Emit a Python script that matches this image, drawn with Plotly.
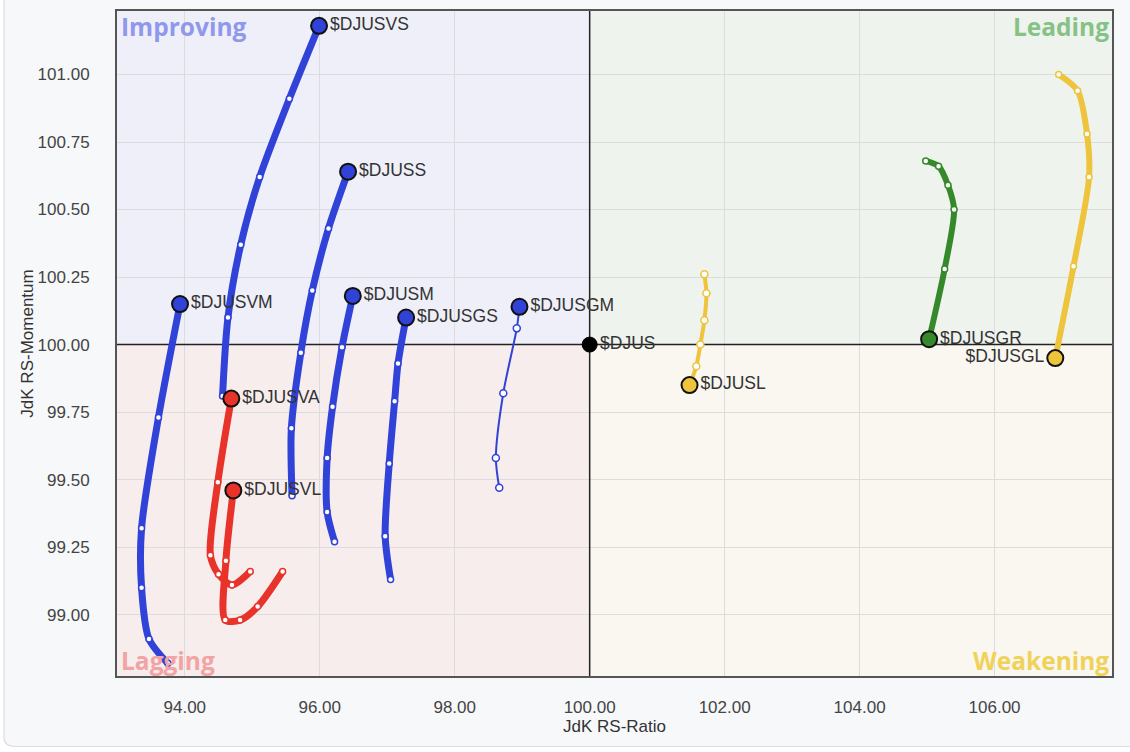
import plotly.graph_objects as go

# ---------------- data (JdK RS-Ratio, JdK RS-Momentum), oldest -> latest ----------------
names = ["$DJUSVS", "$DJUSS", "$DJUSVM", "$DJUSM", "$DJUSGS", "$DJUSGM",
         "$DJUSVA", "$DJUSVL", "$DJUSL", "$DJUSGR", "$DJUSGL"]

djusvs_x = [94.56, 94.64, 94.83, 95.11, 95.55, 95.99]
djusvs_y = [99.81, 100.10, 100.37, 100.62, 100.91, 101.18]

djuss_x = [95.59, 95.58, 95.72, 95.89, 96.13, 96.42]
djuss_y = [99.44, 99.69, 99.97, 100.20, 100.43, 100.64]

djusvm_x = [93.75, 93.47, 93.36, 93.36, 93.61, 93.93]
djusvm_y = [98.82, 98.91, 99.10, 99.32, 99.73, 100.15]

djusm_x = [96.22, 96.11, 96.11, 96.19, 96.33, 96.49]
djusm_y = [99.27, 99.38, 99.58, 99.77, 99.99, 100.18]

djusgs_x = [97.05, 96.97, 97.03, 97.11, 97.16, 97.28]
djusgs_y = [99.13, 99.29, 99.56, 99.79, 99.93, 100.10]

djusgm_x = [98.66, 98.61, 98.72, 98.92, 98.96]
djusgm_y = [99.47, 99.58, 99.82, 100.06, 100.14]

djusva_x = [94.97, 94.70, 94.50, 94.38, 94.49, 94.69]
djusva_y = [99.16, 99.11, 99.15, 99.22, 99.49, 99.80]

djusvl_x = [95.45, 95.08, 94.82, 94.60, 94.61, 94.72]
djusvl_y = [99.16, 99.03, 98.98, 98.98, 99.20, 99.46]

djusl_x = [101.70, 101.73, 101.70, 101.64, 101.58, 101.48]
djusl_y = [100.26, 100.19, 100.09, 100.00, 99.92, 99.85]

djusgr_x = [104.98, 105.17, 105.31, 105.40, 105.26, 105.03]
djusgr_y = [100.68, 100.66, 100.59, 100.50, 100.28, 100.02]

djusgl_x = [106.95, 107.23, 107.37, 107.40, 107.17, 106.90]
djusgl_y = [101.00, 100.94, 100.78, 100.62, 100.29, 99.95]

benchmark_name = "$DJUS"
benchmark_x = [100.00]
benchmark_y = [100.00]

x_ticks = [94, 96, 98, 100, 102, 104, 106]
y_ticks = [99.00, 99.25, 99.50, 99.75, 100.00, 100.25, 100.50, 100.75, 101.00]

quadrants = ["Improving", "Leading", "Lagging", "Weakening"]

# ---------------- styles ----------------
BLUE = "#3042d8"
RED = "#e8332b"
GREEN = "#35892a"
YELLOW = "#edc43c"

series = [
    (djusvs_x, djusvs_y, names[0], BLUE, 7, "right"),
    (djuss_x, djuss_y, names[1], BLUE, 7, "right"),
    (djusvm_x, djusvm_y, names[2], BLUE, 7, "right"),
    (djusm_x, djusm_y, names[3], BLUE, 7, "right"),
    (djusgs_x, djusgs_y, names[4], BLUE, 7, "right"),
    (djusgm_x, djusgm_y, names[5], BLUE, 2, "right"),
    (djusva_x, djusva_y, names[6], RED, 7, "right"),
    (djusvl_x, djusvl_y, names[7], RED, 7, "right"),
    (djusl_x, djusl_y, names[8], YELLOW, 4, "right"),
    (djusgr_x, djusgr_y, names[9], GREEN, 6, "right"),
    (djusgl_x, djusgl_y, names[10], YELLOW, 6, "left"),
]

X_MIN, X_MAX = 92.996, 107.74
Y_MIN, Y_MAX = 98.773, 101.235

fig = go.Figure()

FONT = "Liberation Sans, Arial, sans-serif"
LABEL_SIZE = 17.5

for xs, ys, name, color, lw, side in series:
    n = len(xs)
    thin = lw <= 4
    tail_size = 7 if thin else 6
    sizes = [tail_size] * (n - 1) + [16]
    fills = ["white"] * (n - 1) + [color]
    lcols = [color] * (n - 1) + ["#111111"]
    lwid = [1.5] * (n - 1) + [2]
    texts = [""] * (n - 1) + [name]
    fig.add_trace(go.Scatter(
        x=xs, y=ys, mode="lines+markers+text",
        line=dict(color=color, width=lw, shape="spline", smoothing=0.8),
        marker=dict(size=sizes, color=fills, opacity=1, line=dict(color=lcols, width=lwid)),
        text=texts,
        textposition="middle right" if side == "right" else "middle left",
        textfont=dict(family=FONT, size=LABEL_SIZE, color="#333333"),
        hoverinfo="x+y+name", name=name, showlegend=False,
        cliponaxis=False,
    ))

fig.add_trace(go.Scatter(
    x=benchmark_x, y=benchmark_y, mode="markers+text",
    marker=dict(size=15, color="#000000", line=dict(color="#000000", width=1)),
    text=[benchmark_name], textposition="middle right",
    textfont=dict(family=FONT, size=LABEL_SIZE, color="#333333"),
    showlegend=False, name=benchmark_name, cliponaxis=False,
))

shapes = [
    # card background
    dict(type="path", xref="paper", yref="paper", layer="below",
         path="M -0.1136,1.05 L -0.1136,-0.093 Q -0.1136,-0.106 -0.1016,-0.106 L 1.05,-0.106 L 1.05,1.05 Z",
         fillcolor="#f7f8fa", line=dict(color="#dcdde0", width=1.2)),
    # quadrants
    dict(type="rect", xref="x", yref="y", layer="below", x0=X_MIN, x1=100, y0=100, y1=Y_MAX,
         fillcolor="#eeeff8", line=dict(width=0)),
    dict(type="rect", xref="x", yref="y", layer="below", x0=100, x1=X_MAX, y0=100, y1=Y_MAX,
         fillcolor="#eef3ee", line=dict(width=0)),
    dict(type="rect", xref="x", yref="y", layer="below", x0=X_MIN, x1=100, y0=Y_MIN, y1=100,
         fillcolor="#f7eded", line=dict(width=0)),
    dict(type="rect", xref="x", yref="y", layer="below", x0=100, x1=X_MAX, y0=Y_MIN, y1=100,
         fillcolor="#f9f7f0", line=dict(width=0)),
    # center cross
    dict(type="line", xref="x", yref="y", layer="between", x0=100, x1=100, y0=Y_MIN, y1=Y_MAX,
         line=dict(color="#222222", width=1.5)),
    dict(type="line", xref="x", yref="y", layer="between", x0=X_MIN, x1=X_MAX, y0=100, y1=100,
         line=dict(color="#222222", width=1.5)),
]

qlabel_font = dict(family="Open Sans, Noto Sans, sans-serif", size=24.5, weight="bold")
annotations = [
    dict(text=quadrants[0], x=0.002, y=1.005, xref="paper", yref="paper", xanchor="left", yanchor="top",
         showarrow=False, font=dict(**qlabel_font, color="#8f98ea")),
    dict(text=quadrants[1], x=0.999, y=1.005, xref="paper", yref="paper", xanchor="right", yanchor="top",
         showarrow=False, font=dict(**qlabel_font, color="#86c286")),
    dict(text=quadrants[2], x=0.002, y=-0.005, xref="paper", yref="paper", xanchor="left", yanchor="bottom",
         showarrow=False, font=dict(**qlabel_font, color="#f2a3a3")),
    dict(text=quadrants[3], x=0.999, y=-0.005, xref="paper", yref="paper", xanchor="right", yanchor="bottom",
         showarrow=False, font=dict(**qlabel_font, color="#f0d25a")),
]

fig.update_layout(
    width=1130, height=752,
    margin=dict(l=117, r=18, t=9, b=76),
    paper_bgcolor="white",
    plot_bgcolor="rgba(0,0,0,0)",
    shapes=shapes,
    annotations=annotations,
    font=dict(family=FONT, color="#333333"),
    showlegend=False,
)

fig.update_xaxes(
    range=[X_MIN, X_MAX], tickvals=x_ticks, tickformat=".2f",
    showgrid=True, gridcolor="#dcdcdc", gridwidth=1, zeroline=False,
    showline=True, linecolor="#555555", linewidth=2, mirror=True,
    ticks="outside", ticklen=15, tickcolor="rgba(0,0,0,0)",
    tickfont=dict(family=FONT, size=17, color="#444444"),
    title=dict(text="JdK RS-Ratio", standoff=4, font=dict(family=FONT, size=17, color="#333333")),
)
fig.update_yaxes(
    range=[Y_MIN, Y_MAX], tickvals=y_ticks, tickformat=".2f",
    showgrid=True, gridcolor="#dcdcdc", gridwidth=1, zeroline=False,
    showline=True, linecolor="#555555", linewidth=2, mirror=True,
    ticks="outside", ticklen=22, tickcolor="rgba(0,0,0,0)",
    tickfont=dict(family=FONT, size=17, color="#444444"),
    title=dict(text="JdK RS-Momentum", standoff=0, font=dict(family=FONT, size=17, color="#333333")),
)

fig.write_html("out.html", config={"displayModeBar": False},
               post_script="document.body.style.margin='0px';")
